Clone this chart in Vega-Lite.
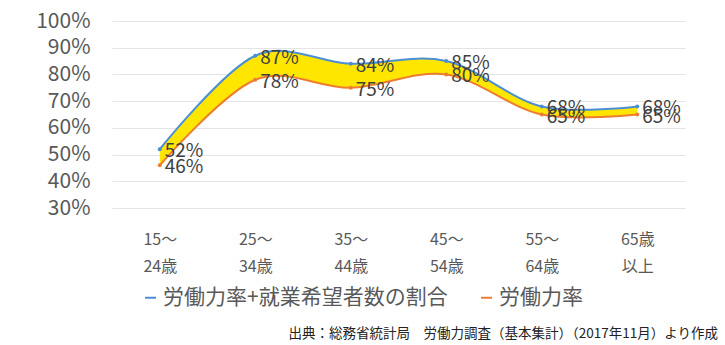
{
  "$schema": "https://vega.github.io/schema/vega-lite/v6.json",
  "width": 573,
  "height": 187,
  "autosize": {"type": "none"},
  "padding": {"left": 112, "top": 21, "right": 40, "bottom": 137},
  "background": "white",
  "config": {
    "font": "Noto Sans CJK JP",
    "view": {"stroke": null}
  },
  "title": {
    "text": "出典：総務省統計局　労働力調査（基本集計）（2017年11月）より作成",
    "orient": "bottom",
    "anchor": "end",
    "fontSize": 13.5,
    "fontWeight": "normal",
    "color": "#222222",
    "offset": 19,
    "dx": 33
  },
  "data": {
    "values": [
      {"age": "15～ 24歳", "series": "労働力率+就業希望者数の割合", "value": 0.52},
      {"age": "25～ 34歳", "series": "労働力率+就業希望者数の割合", "value": 0.87},
      {"age": "35～ 44歳", "series": "労働力率+就業希望者数の割合", "value": 0.84},
      {"age": "45～ 54歳", "series": "労働力率+就業希望者数の割合", "value": 0.85},
      {"age": "55～ 64歳", "series": "労働力率+就業希望者数の割合", "value": 0.68},
      {"age": "65歳 以上", "series": "労働力率+就業希望者数の割合", "value": 0.68},
      {"age": "15～ 24歳", "series": "労働力率", "value": 0.46},
      {"age": "25～ 34歳", "series": "労働力率", "value": 0.78},
      {"age": "35～ 44歳", "series": "労働力率", "value": 0.75},
      {"age": "45～ 54歳", "series": "労働力率", "value": 0.80},
      {"age": "55～ 64歳", "series": "労働力率", "value": 0.65},
      {"age": "65歳 以上", "series": "労働力率", "value": 0.65}
    ]
  },
  "encoding": {
    "x": {
      "field": "age",
      "type": "ordinal",
      "sort": null,
      "scale": {"type": "point", "padding": 0.5},
      "axis": {
        "title": null,
        "domain": false,
        "ticks": false,
        "grid": false,
        "labelAngle": 0,
        "labelExpr": "split(datum.label, ' ')",
        "labelFontSize": 16,
        "labelColor": "#595959",
        "labelPadding": 23,
        "labelBaseline": "top",
        "labelLineHeight": 27
      }
    },
    "y": {
      "field": "value",
      "type": "quantitative",
      "scale": {"domain": [0.3, 1.0], "nice": false, "zero": false},
      "axis": {
        "title": null,
        "format": ".0%",
        "values": [0.3, 0.4, 0.5, 0.6, 0.7, 0.8, 0.9, 1.0],
        "domain": false,
        "ticks": false,
        "labelFontSize": 21,
        "labelColor": "#595959",
        "labelPadding": 22,
        "gridColor": "#e4e4e4",
        "gridWidth": 1
      }
    }
  },
  "layer": [
    {
      "transform": [
        {"pivot": "series", "value": "value", "groupby": ["age"]}
      ],
      "mark": {"type": "area", "color": "#FFE600", "interpolate": "cardinal", "opacity": 1},
      "encoding": {
        "y": {"field": "労働力率+就業希望者数の割合", "type": "quantitative"},
        "y2": {"field": "労働力率"}
      }
    },
    {
      "mark": {"type": "line", "interpolate": "cardinal", "strokeWidth": 2, "point": {"size": 16, "filled": true}},
      "encoding": {
        "color": {
          "field": "series",
          "type": "nominal",
          "scale": {
            "domain": ["労働力率+就業希望者数の割合", "労働力率"],
            "range": ["#4A8FD4", "#ED7D31"]
          },
          "legend": {
            "title": null,
            "orient": "none",
            "direction": "horizontal",
            "legendX": 28,
            "legendY": 266,
            "labelFontSize": 21,
            "labelColor": "#595959",
            "labelLimit": 0,
            "symbolType": "stroke",
            "symbolStrokeWidth": 2,
            "symbolSize": 120,
            "labelOffset": 2,
            "columnPadding": 28
          }
        }
      }
    },
    {
      "mark": {"type": "text", "align": "left", "baseline": "middle", "dx": 5, "dy": 2, "fontSize": 19, "color": "#404040"},
      "encoding": {
        "text": {"field": "value", "type": "quantitative", "format": ".0%"}
      }
    }
  ]
}
